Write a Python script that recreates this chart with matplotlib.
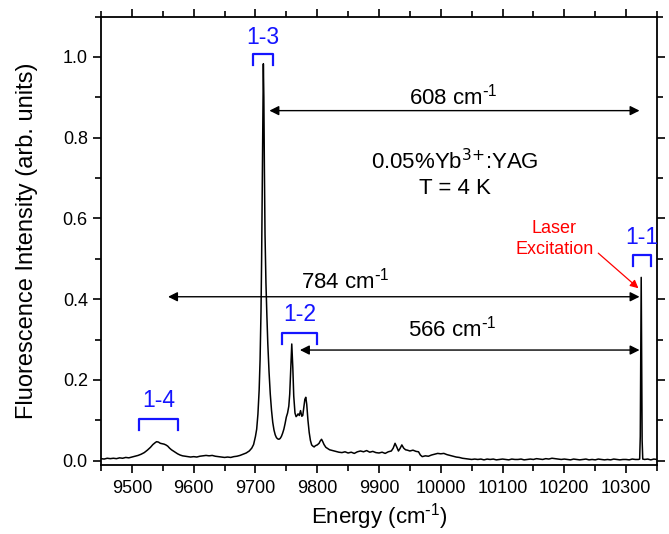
import matplotlib
matplotlib.use('Agg')
import matplotlib.pyplot as plt
from matplotlib.ticker import MultipleLocator

plt.rcParams['font.family'] = ['Liberation Sans', 'DejaVu Sans']
plt.rcParams['mathtext.default'] = 'regular'

# spectrum read point by point (energy in cm^-1, intensity normalised)
energy = [
    9450, 9455, 9460, 9465, 9470, 9475, 9480, 9485, 9490, 9495,
    9500, 9505, 9510, 9515, 9520, 9525, 9530, 9534, 9538, 9540,
    9543, 9546, 9549, 9552, 9555, 9558, 9561, 9564, 9567, 9570,
    9574, 9578, 9582, 9586, 9590, 9595, 9600, 9605, 9610, 9615,
    9620, 9625, 9630, 9635, 9640, 9645, 9650, 9655, 9660, 9665,
    9670, 9675, 9680, 9685, 9690, 9694, 9697, 9700, 9702, 9704,
    9706, 9707.5, 9709, 9710, 9711, 9712, 9712.8, 9713.6, 9714.5, 9715.5,
    9717, 9718.5, 9720, 9722, 9724, 9726, 9728, 9730, 9732, 9734,
    9736, 9738, 9740, 9742, 9744, 9746, 9748, 9750, 9752, 9754,
    9755.5, 9757, 9758.8, 9760.5, 9762, 9764, 9765.8, 9767.5, 9769, 9771,
    9773, 9775, 9776.6, 9778.5, 9780, 9781.5, 9783, 9785, 9787, 9789,
    9791, 9793, 9795, 9797, 9800, 9803, 9805, 9807, 9809, 9811,
    9814, 9817, 9820, 9825, 9830, 9835, 9840, 9845, 9850, 9855,
    9860, 9865, 9870, 9875, 9880, 9885, 9890, 9895, 9900, 9905,
    9910, 9915, 9920, 9923, 9926, 9929, 9931.5, 9934, 9937, 9940,
    9943, 9946, 9950, 9955, 9960, 9964, 9967, 9970, 9975, 9980,
    9985, 9990, 9995, 10000, 10005, 10010, 10015, 10020, 10025, 10030,
    10035, 10040, 10045, 10050, 10055, 10060, 10065, 10070, 10075, 10080,
    10085, 10090, 10095, 10100, 10105, 10110, 10115, 10120, 10125, 10130,
    10135, 10140, 10145, 10150, 10155, 10160, 10165, 10170, 10175, 10180,
    10185, 10190, 10195, 10200, 10205, 10210, 10215, 10220, 10225, 10230,
    10235, 10240, 10245, 10250, 10255, 10260, 10265, 10270, 10275, 10280,
    10285, 10290, 10295, 10300, 10305, 10310, 10315, 10320, 10322, 10323,
    10324, 10324.5, 10325, 10326, 10327, 10330, 10335, 10340, 10345, 10350,
]
intensity = [
    0.005, 0.004, 0.006, 0.005, 0.006, 0.005, 0.007, 0.006, 0.008, 0.007,
    0.009, 0.011, 0.013, 0.016, 0.020, 0.026, 0.033, 0.040, 0.045, 0.047,
    0.046, 0.043, 0.042, 0.041, 0.039, 0.036, 0.031, 0.027, 0.024, 0.021,
    0.017, 0.014, 0.012, 0.011, 0.010, 0.009, 0.010, 0.009, 0.011, 0.012,
    0.013, 0.012, 0.013, 0.011, 0.010, 0.009, 0.008, 0.009, 0.008, 0.010,
    0.011, 0.013, 0.016, 0.019, 0.024, 0.031, 0.040, 0.060, 0.078, 0.115,
    0.175, 0.250, 0.370, 0.500, 0.680, 0.880, 0.983, 0.900, 0.720, 0.560,
    0.440, 0.360, 0.290, 0.220, 0.165, 0.125, 0.095, 0.076, 0.064, 0.057,
    0.054, 0.053, 0.055, 0.060, 0.068, 0.078, 0.092, 0.108, 0.118, 0.135,
    0.165, 0.220, 0.289, 0.230, 0.160, 0.118, 0.109, 0.112, 0.116, 0.112,
    0.124, 0.110, 0.112, 0.135, 0.152, 0.157, 0.140, 0.100, 0.070, 0.050,
    0.039, 0.036, 0.034, 0.037, 0.039, 0.043, 0.049, 0.053, 0.047, 0.040,
    0.033, 0.030, 0.027, 0.025, 0.023, 0.021, 0.020, 0.022, 0.019, 0.021,
    0.018, 0.022, 0.024, 0.022, 0.025, 0.021, 0.023, 0.020, 0.019, 0.021,
    0.018, 0.022, 0.024, 0.031, 0.043, 0.033, 0.024, 0.030, 0.039, 0.031,
    0.027, 0.026, 0.024, 0.026, 0.023, 0.022, 0.014, 0.010, 0.012, 0.011,
    0.014, 0.016, 0.018, 0.017, 0.018, 0.015, 0.013, 0.011, 0.009, 0.008,
    0.006, 0.005, 0.004, 0.003, 0.004, 0.003, 0.004, 0.002, 0.004, 0.003,
    0.004, 0.002, 0.003, 0.004, 0.003, 0.002, 0.004, 0.003, 0.003, 0.004,
    0.002, 0.003, 0.004, 0.003, 0.005, 0.004, 0.003, 0.005, 0.004, 0.006,
    0.005, 0.004, 0.003, 0.004, 0.003, 0.002, 0.004, 0.003, 0.002, 0.003,
    0.004, 0.002, 0.003, 0.002, 0.004, 0.003, 0.002, 0.003, 0.002, 0.004,
    0.003, 0.002, 0.003, 0.003, 0.002, 0.004, 0.003, 0.003, 0.004, 0.060,
    0.300, 0.454, 0.320, 0.050, 0.004, 0.003, 0.004, 0.002, 0.004, 0.003,
]

# transition labels: (text, bracket left, bracket right, bracket top, text y)
trans_labels = ['1-1', '1-2', '1-3', '1-4']
trans_left = [10310.5, 9743.6, 9695.7, 9512]
trans_right = [10339.6, 9800.3, 9729, 9575]
trans_top = [0.510, 0.316, 1.007, 0.103]
trans_text_y = [0.553, 0.363, 1.048, 0.148]

# energy gaps to the laser line: (label, left end, arrow height, text x, text y)
gap_labels = [r'608 cm$^{\text{-}1}$', r'784 cm$^{\text{-}1}$',
              r'566 cm$^{\text{-}1}$']
gap_left = [9722.6, 9558.5, 9772]
gap_right = [10321.8, 10321.8, 10321.8]
gap_y = [0.867, 0.406, 0.274]
gap_text_x = [10020, 9845, 10018]
gap_text_y = [0.902, 0.447, 0.327]

fig = plt.figure(figsize=(6.69, 5.34), dpi=100)
ax = fig.add_axes([0.151, 0.129, 0.831, 0.840])

ax.plot(energy, intensity, color='black', lw=1.1)

ax.set_xlim(9450, 10350)
ax.set_ylim(-0.011, 1.1)
ax.xaxis.set_major_locator(MultipleLocator(100))
ax.xaxis.set_minor_locator(MultipleLocator(50))
ax.yaxis.set_major_locator(MultipleLocator(0.2))
ax.yaxis.set_minor_locator(MultipleLocator(0.1))
ax.yaxis.set_major_formatter(plt.FormatStrFormatter('%.1f'))
ax.tick_params(which='both', direction='out', top=True, right=True,
               labelsize=13, width=1.2)
ax.tick_params(which='major', length=6)
ax.tick_params(which='minor', length=4)
ax.tick_params(axis='x', pad=5)
for s in ax.spines.values():
    s.set_linewidth(1.3)

ax.set_xlabel(r'Energy (cm$^{\text{-}1}$)', fontsize=16, labelpad=3)
ax.set_ylabel('Fluorescence Intensity (arb. units)', fontsize=17)
ax.yaxis.set_label_coords(-0.113, 0.5)

# blue brackets over each transition
blue = '#1515ff'
for lab, x0, x1, yt, ty in zip(trans_labels, trans_left, trans_right,
                               trans_top, trans_text_y):
    leg = 0.027
    ax.plot([x0, x0, x1, x1], [yt - leg, yt, yt, yt - leg], color=blue, lw=1.6)
    ax.text((x0 + x1) / 2, ty, lab, color=blue, fontsize=16.5,
            ha='center', va='center')

# double arrows for the energy gaps
for lab, x0, x1, y, tx, ty in zip(gap_labels, gap_left, gap_right, gap_y,
                                  gap_text_x, gap_text_y):
    ax.annotate('', xy=(x0, y), xytext=(x1, y),
                arrowprops=dict(arrowstyle='<|-|>', color='black', lw=1.0,
                                mutation_scale=14, shrinkA=0, shrinkB=0))
    ax.text(tx, ty, lab, fontsize=16, ha='center', va='center')

ax.text(10023, 0.710, '0.05%Yb$^{\\text{3+}}$:YAG\nT = 4 K', fontsize=16,
        ha='center', va='center', linespacing=1.2)

# laser line marker
ax.text(10247, 0.549, 'Laser\nExcitation', color='red', fontsize=13,
        ha='right', va='center', multialignment='center', linespacing=1.3)
ax.annotate('', xy=(10320, 0.427), xytext=(10255, 0.514),
            arrowprops=dict(arrowstyle='-|>', color='red', lw=0.9,
                            mutation_scale=12, shrinkA=0, shrinkB=0))

fig.savefig('out.png', dpi=100)
